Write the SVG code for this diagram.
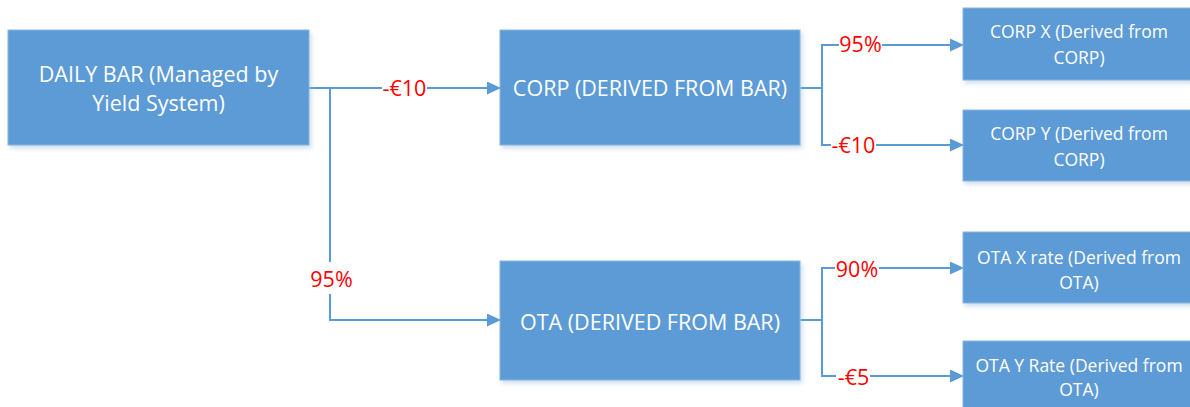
<svg xmlns="http://www.w3.org/2000/svg" width="1190" height="407" viewBox="0 0 1190 407">
<defs>
<filter id="sh" x="-5%" y="-5%" width="112%" height="120%">
<feDropShadow dx="2" dy="3" stdDeviation="2" flood-color="#9bb7d4" flood-opacity="0.45"/>
</filter>
<marker id="arr" markerWidth="14" markerHeight="14" refX="13" refY="6.5" orient="auto" markerUnits="userSpaceOnUse">
<path d="M0,0 L14,6.5 L0,13 Z" fill="#5B9BD5"/>
</marker>
<style>
.box{fill:#5B9BD5;stroke:#8ab6e0;stroke-width:1;filter:url(#sh)}
.t{font-family:"Open Sans","Liberation Sans",sans-serif;fill:#fff;text-anchor:middle}
.big{font-size:21.5px}
.sm{font-size:17.5px}
.c{fill:none;stroke:#5B9BD5;stroke-width:2}
.a{marker-end:url(#arr)}
.lbl{font-family:"Open Sans","Liberation Sans",sans-serif;font-size:21.5px;fill:#ff0000;text-anchor:middle}
.bg{fill:#fff}
</style>
</defs>
<rect width="1190" height="407" fill="#fff"/>
<g id="connectors">
<path class="c a" d="M309,88 H500"/>
<path class="c a" d="M330,88 V320 H500"/>
<path class="c a" d="M800,88 H822 V45 H963"/>
<path class="c a" d="M800,88 H822 V145 H963"/>
<path class="c a" d="M800,320 H822 V268 H963"/>
<path class="c a" d="M800,320 H822 V376 H963"/>
<rect class="bg" x="382" y="78" width="45" height="20"/>
<text class="lbl" x="404.5" y="96">-€10</text>
<rect class="bg" x="309" y="262" width="44" height="32"/>
<text class="lbl" x="331.5" y="286.5">95%</text>
<rect class="bg" x="839" y="35" width="43" height="20"/>
<text class="lbl" x="860.5" y="52">95%</text>
<rect class="bg" x="831" y="135" width="45" height="20"/>
<text class="lbl" x="853.5" y="153">-€10</text>
<rect class="bg" x="835" y="258" width="44" height="20"/>
<text class="lbl" x="857" y="276.5">90%</text>
<rect class="bg" x="836" y="366" width="34" height="20"/>
<text class="lbl" x="853.5" y="385">-€5</text>
</g>
<g id="daily-bar">
<rect class="box" x="8" y="30" width="301" height="115"/>
<text class="t big" x="158.5" y="81.5">DAILY BAR (Managed by</text>
<text class="t big" x="158.5" y="110.5">Yield System)</text>
</g>
<g id="corp">
<rect class="box" x="500" y="30" width="300" height="115"/>
<text class="t big" x="650" y="96">CORP (DERIVED FROM BAR)</text>
</g>
<g id="ota">
<rect class="box" x="500" y="261" width="300" height="119"/>
<text class="t big" x="650" y="330">OTA (DERIVED FROM BAR)</text>
</g>
<g id="corp-x">
<rect class="box" x="963" y="8" width="233" height="72"/>
<text class="t sm" x="1079" y="37.5">CORP X (Derived from</text>
<text class="t sm" x="1079" y="63.5">CORP)</text>
</g>
<g id="corp-y">
<rect class="box" x="963" y="110" width="233" height="71"/>
<text class="t sm" x="1079" y="139.5">CORP Y (Derived from</text>
<text class="t sm" x="1079" y="165.5">CORP)</text>
</g>
<g id="ota-x">
<rect class="box" x="963" y="232" width="233" height="71"/>
<text class="t sm" x="1079" y="263.5">OTA X rate (Derived from</text>
<text class="t sm" x="1079" y="288.5">OTA)</text>
</g>
<g id="ota-y">
<rect class="box" x="963" y="341" width="233" height="72"/>
<text class="t sm" x="1079" y="372">OTA Y Rate (Derived from</text>
<text class="t sm" x="1079" y="396">OTA)</text>
</g>
</svg>
